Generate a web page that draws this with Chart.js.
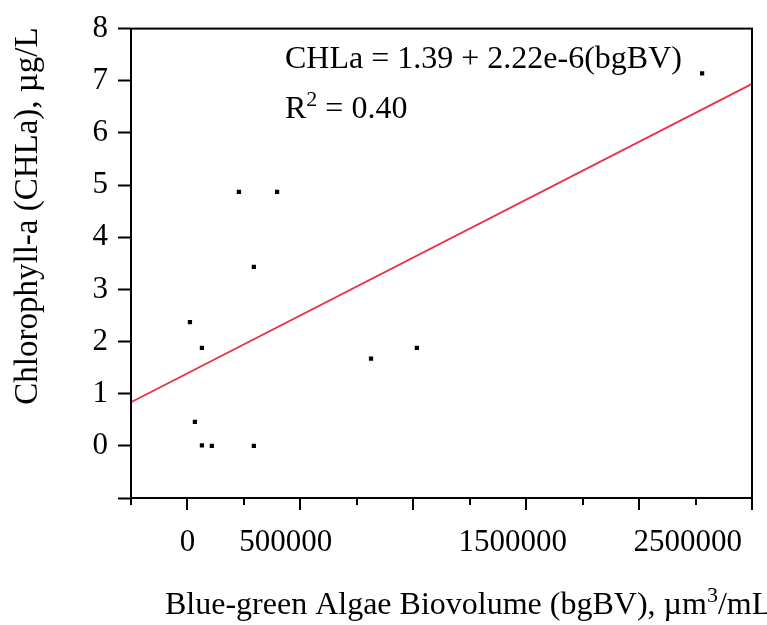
<!DOCTYPE html>
<html>
<head>
<meta charset="utf-8">
<script src="https://cdn.jsdelivr.net/npm/chart.js@4"></script>
<style>
  html, body { margin: 0; padding: 0; background: #fff; }
  #wrap { width: 767px; height: 625px; }
</style>
</head>
<body>
<div id="wrap"><canvas id="myChart" width="767" height="625"></canvas></div>
<script>
// blue-green algae biovolume (um3/mL) vs chlorophyll-a (ug/L)
var bgBV = [11000, 33000, 64000, 64000, 108000, 228000, 294000, 294000, 397000, 813000, 1016000, 2279000];
var chla = [2.37, 0.46, 1.88, 0.01, 0, 4.87, 3.43, 0, 4.87, 1.67, 1.88, 7.14];

// fitted line CHLa = 1.39 + 2.22e-6 * bgBV, ends at the axis limits
var fitX = [-250000, 2500000];
var fitY = [0.835, 6.94];

var xTickLabels = ['0', '500000', '1500000', '2500000'];
var xTickLabelAt = [0, 435000, 1440000, 2215000];
var yTicks = [-1, 0, 1, 2, 3, 4, 5, 6, 7, 8];

var FONT = '"Liberation Serif", "Times New Roman", serif';

function $each(arr, fn) { for (var i = 0; i < arr.length; i++) fn(i, arr[i]); }

var points = [];
$each(bgBV, function (i, v) { points.push({x: v, y: chla[i]}); });
var fitLine = [];
$each(fitX, function (i, v) { fitLine.push({x: v, y: fitY[i]}); });

// draws text pieces one after another, pieces with sup:true are raised
function drawRich(ctx, parts, x, y, size) {
    $each(parts, function (i, p) {
        var sz = p.sup ? Math.round(size * 0.68) : size;
        ctx.font = sz + 'px ' + FONT;
        ctx.fillText(p.t, x, p.sup ? y - size * 0.38 : y);
        x += ctx.measureText(p.t).width;
    });
}

// frame, x tick marks, x labels, titles and the equation
var extras = {
    id: 'extras',
    afterDraw: function (chart) {
        var ctx = chart.ctx;
        var a = chart.chartArea;
        var xs = chart.scales.x;
        ctx.save();
        ctx.strokeStyle = '#000';
        ctx.lineWidth = 2;
        ctx.strokeRect(a.left, a.top, a.right - a.left, a.bottom - a.top);

        // x ticks, long on every 500000
        ctx.beginPath();
        $each(xs.ticks, function (i, t) {
            var px = Math.round(xs.getPixelForValue(t.value));
            var len = (t.value % 500000 === 0) ? 12 : 7;
            ctx.moveTo(px, a.bottom);
            ctx.lineTo(px, a.bottom + len);
        });
        ctx.stroke();

        ctx.fillStyle = '#000';
        ctx.font = '31px ' + FONT;
        ctx.textAlign = 'center';
        ctx.textBaseline = 'alphabetic';
        $each(xTickLabels, function (i, s) {
            ctx.fillText(s, xs.getPixelForValue(xTickLabelAt[i]), 551);
        });

        ctx.save();
        ctx.translate(37, 216);
        ctx.rotate(-Math.PI / 2);
        ctx.font = '33px ' + FONT;
        ctx.fillText('Chlorophyll-a (CHLa), \u00b5g/L', 0, 0);
        ctx.restore();

        ctx.textAlign = 'left';
        drawRich(ctx, [{t: 'Blue-green Algae Biovolume (bgBV), \u00b5m'}, {t: '3', sup: true}, {t: '/mL'}], 165, 614, 32);

        ctx.font = '32px ' + FONT;
        ctx.fillText('CHLa = 1.39 + 2.22e-6(bgBV)', 285, 68);
        drawRich(ctx, [{t: 'R'}, {t: '2', sup: true}, {t: ' = 0.40'}], 285, 118, 32);
        ctx.restore();
    }
};

new Chart(document.getElementById('myChart'), {
    type: 'scatter',
    data: {
        datasets: [{
            label: 'samples',
            data: points,
            pointStyle: 'rect',
            pointRadius: 3,
            backgroundColor: '#000',
            borderColor: '#000',
            borderWidth: 0
        }, {
            label: 'fit',
            type: 'line',
            data: fitLine,
            borderColor: '#e8344a',
            borderWidth: 1.8,
            pointRadius: 0,
            fill: false
        }]
    },
    options: {
        responsive: false,
        animation: false,
        events: [],
        layout: { padding: { top: 22, right: 15, bottom: 0, left: 0 } },
        plugins: { legend: { display: false }, tooltip: { enabled: false } },
        scales: {
            x: {
                type: 'linear',
                min: -250000,
                max: 2500000,
                ticks: { display: false, stepSize: 250000 },
                grid: { display: false },
                border: { display: true, color: '#000', width: 2 },
                afterFit: function (s) { s.height = 127; }
            },
            y: {
                min: -1,
                max: 8,
                afterBuildTicks: function (s) {
                    s.ticks = yTicks.map(function (v) { return {value: v}; });
                },
                ticks: {
                    color: '#000',
                    font: { family: FONT, size: 31 },
                    padding: 10,
                    callback: function (v) { return v === -1 ? '' : v; }
                },
                grid: { drawOnChartArea: false, tickLength: 13, color: '#000', tickWidth: 2 },
                border: { display: true, color: '#000', width: 2 },
                afterFit: function (s) { s.width = 131; }
            }
        }
    },
    plugins: [extras]
});
</script>
</body>
</html>
